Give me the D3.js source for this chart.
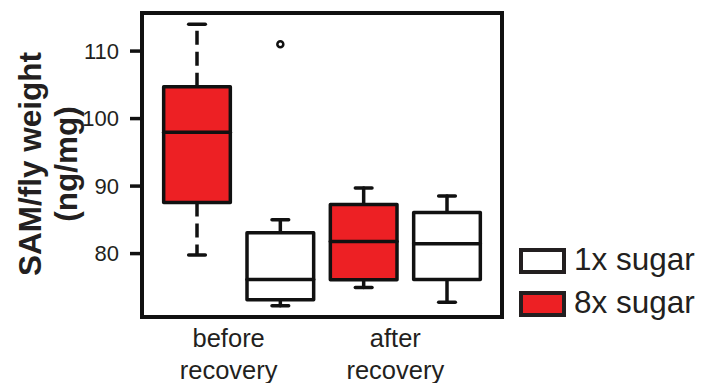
<!DOCTYPE html>
<html>
<head>
<meta charset="utf-8">
<script src="https://cdn.jsdelivr.net/npm/d3@7"></script>
<style>
  body { margin: 0; background: #fff; }
  svg text { font-family: 'Liberation Sans', Arial, sans-serif; fill: #231f20; }
</style>
</head>
<body>
<svg id="chart" width="702" height="383"></svg>
<script>
// box order: before/8x, before/1x, after/8x, after/1x
const groupLabels = [['before', 'recovery'], ['after', 'recovery']];
const boxSugar = ['8x sugar', '1x sugar', '8x sugar', '1x sugar'];
const lowWhisker = [79.7, 72.2, 74.9, 72.7];
const q1 = [87.5, 73.1, 76.05, 76.1];
const median = [97.9, 76.1, 81.7, 81.4];
const q3 = [104.65, 83.0, 87.2, 86.0];
const highWhisker = [113.9, 84.95, 89.65, 88.45];
const outliers = [[], [110.95], [], []];
const legendLabels = ['1x sugar', '8x sugar'];
const yTicks = [80, 90, 100, 110];

const fills = { '1x sugar': '#ffffff', '8x sugar': '#ed2024' };
const ink = '#111';
const dashedBoxes = [0];

const svg = d3.select('#chart');
const margin = { top: 13, right: 200, bottom: 66, left: 142 };
const width = 702;
const height = 383;
const plotW = width - margin.left - margin.right;
const plotH = height - margin.top - margin.bottom;

const n = boxSugar.length;
// R style limits: 0.5..n+0.5, then 4% padding
const xPad = n * 0.04;
const scaleX = d3.scaleLinear()
  .domain([0.5 - xPad, n + 0.5 + xPad])
  .range([margin.left, margin.left + plotW]);

const yMin = d3.min(lowWhisker);
const yMax = d3.max([...highWhisker, ...outliers.flat()]);
const yPad = (yMax - yMin) * 0.04;
const scaleY = d3.scaleLinear()
  .domain([yMin - yPad, yMax + yPad])
  .range([margin.top + plotH, margin.top]);

const boxW = scaleX(1.4) - scaleX(1);   // half of boxwex 0.8
const capW = boxW / 2;

const boxes = boxSugar.map((s, i) => ({
  i, sugar: s, pos: i + 1,
  lo: lowWhisker[i], q1: q1[i], med: median[i], q3: q3[i], hi: highWhisker[i],
  out: outliers[i],
}));

const g = svg.append('g')
  .attr('stroke-linecap', 'round')
  .attr('stroke-linejoin', 'round');

// whiskers
boxes.forEach((d) => {
  const cx = scaleX(d.pos);
  const dash = dashedBoxes.includes(d.i) ? '14,7' : null;
  [[d.q3, d.hi], [d.q1, d.lo]].forEach(([from, to]) => {
    g.append('line')
      .attr('x1', cx).attr('x2', cx)
      .attr('y1', scaleY(from)).attr('y2', scaleY(to))
      .attr('stroke', ink)
      .attr('stroke-width', 3.5)
      .attr('stroke-linecap', dash ? 'butt' : 'round')
      .attr('stroke-dasharray', dash);
    g.append('line')
      .attr('x1', cx - capW / 2).attr('x2', cx + capW / 2)
      .attr('y1', scaleY(to)).attr('y2', scaleY(to))
      .attr('stroke', ink)
      .attr('stroke-width', 3.5);
  });
});

// boxes
g.selectAll('.box')
  .data(boxes)
  .enter().append('rect')
  .attr('class', 'box')
  .attr('x', d => scaleX(d.pos) - boxW)
  .attr('width', boxW * 2)
  .attr('y', d => scaleY(d.q3))
  .attr('height', d => scaleY(d.q1) - scaleY(d.q3))
  .attr('fill', d => fills[d.sugar])
  .attr('stroke', ink)
  .attr('stroke-width', 3.5);

g.selectAll('.median')
  .data(boxes)
  .enter().append('line')
  .attr('class', 'median')
  .attr('x1', d => scaleX(d.pos) - boxW)
  .attr('x2', d => scaleX(d.pos) + boxW)
  .attr('y1', d => scaleY(d.med))
  .attr('y2', d => scaleY(d.med))
  .attr('stroke', ink)
  .attr('stroke-width', 3.5);

// outliers
boxes.forEach((d) => {
  d.out.forEach((v) => {
    g.append('circle')
      .attr('cx', scaleX(d.pos))
      .attr('cy', scaleY(v))
      .attr('r', 3)
      .attr('fill', 'none')
      .attr('stroke', ink)
      .attr('stroke-width', 2.5);
  });
});

// frame
svg.append('rect')
  .attr('x', margin.left)
  .attr('y', margin.top)
  .attr('width', plotW)
  .attr('height', plotH)
  .attr('fill', 'none')
  .attr('stroke', ink)
  .attr('stroke-width', 4);

// y axis (tick marks from the axis, labels drawn below)
const yAxis = svg.append('g')
  .attr('transform', `translate(${margin.left}, 0)`)
  .call(d3.axisLeft(scaleY).tickValues(yTicks).tickSize(12).tickFormat(''));
yAxis.select('.domain').remove();
yAxis.selectAll('.tick line')
  .attr('stroke', ink)
  .attr('stroke-width', 3.5);

svg.append('g')
  .selectAll('text')
  .data(yTicks)
  .enter().append('text')
  .attr('x', margin.left - 23)
  .attr('y', d => scaleY(d))
  .attr('dy', '0.36em')
  .attr('text-anchor', 'end')
  .attr('font-size', 22)
  .text(d => d);

// y title
const yTitle = svg.append('text')
  .attr('transform', `translate(41, ${margin.top + plotH / 2 - 1}) rotate(-90)`)
  .attr('text-anchor', 'middle')
  .attr('font-size', 31.5)
  .attr('font-weight', 'bold');
yTitle.append('tspan').attr('x', 0).attr('dy', 0).text('SAM/fly weight');
yTitle.append('tspan').attr('x', 0).attr('dy', 36).text('(ng/mg)');

// category labels
groupLabels.forEach((lines, gi) => {
  const cx = scaleX(gi * 2 + 1.5) - 10;
  const t = svg.append('text')
    .attr('x', cx)
    .attr('y', margin.top + plotH + 30)
    .attr('text-anchor', 'middle')
    .attr('font-size', 25.5);
  lines.forEach((l, li) => {
    t.append('tspan').attr('x', cx).attr('dy', li === 0 ? 0 : 31.5).text(l);
  });
});

// legend
const legend = svg.append('g')
  .attr('transform', `translate(521, 250)`);
legendLabels.forEach((l, i) => {
  const row = legend.append('g').attr('transform', `translate(0, ${i * 43})`);
  row.append('rect')
    .attr('width', 43)
    .attr('height', 22)
    .attr('fill', fills[l])
    .attr('stroke', '#231f20')
    .attr('stroke-width', 4);
  row.append('text')
    .attr('x', 53)
    .attr('y', 20)
    .attr('font-size', 31.5)
    .text(l);
});
</script>
</body>
</html>
